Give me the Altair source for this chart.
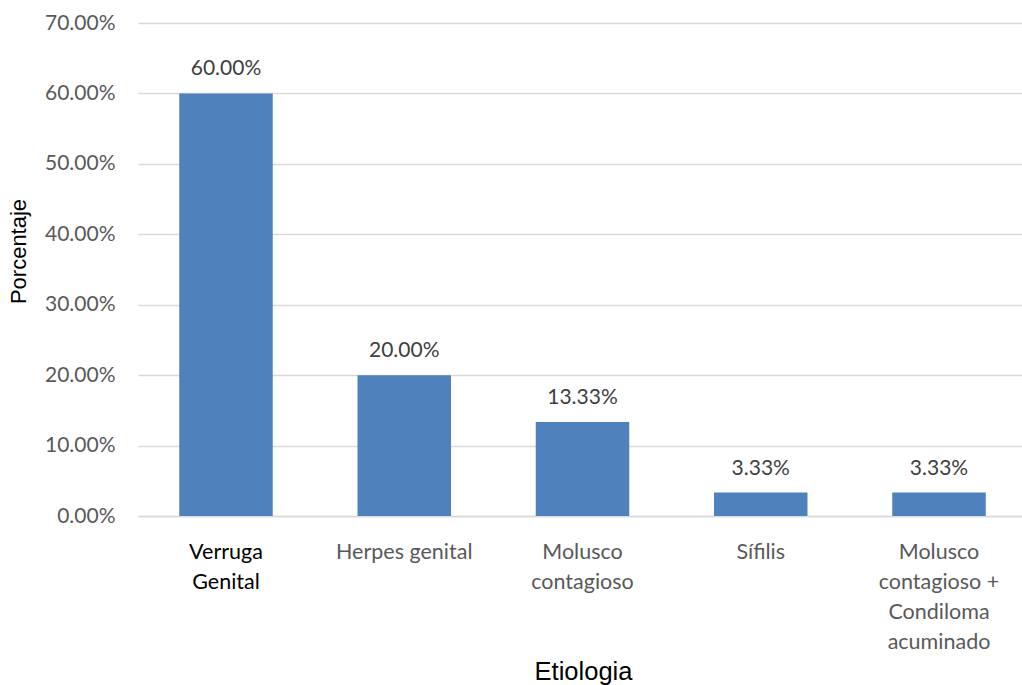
import altair as alt
import pandas as pd

# Etiology categories (line breaks mark how each axis label wraps)
categories = [
    "Verruga\nGenital",
    "Herpes genital",
    "Molusco\ncontagioso",
    "Sífilis",
    "Molusco\ncontagioso +\nCondiloma\nacuminado",
]
# Share of cases per etiology
shares = [0.60, 0.20, 0.1333, 0.0333, 0.0333]
y_ticks = [0.0, 0.1, 0.2, 0.3, 0.4, 0.5, 0.6, 0.7]

df = pd.DataFrame({"etiologia": categories, "porcentaje": shares})

BAR = "#4F81BD"
GRID = "#D9D9D9"
LABEL = "#595959"
FONT = "Lato"
TITLE_FONT = "Liberation Sans"

x_enc = alt.X(
    "etiologia:N",
    sort=categories,
    scale=alt.Scale(range=[0, 889], paddingInner=0.4755, paddingOuter=0.2314),
    axis=alt.Axis(
        title="Etiologia",
        titleFont=TITLE_FONT,
        titleFontSize=25.5,
        titleFontWeight="normal",
        titleColor="#000000",
        titleX=445,
        titleY=163,
        titleAlign="center",
        titleBaseline="alphabetic",
        labelExpr="split(datum.label, '\\n')",
        labelFont=FONT,
        labelFontSize=21.5,
        labelColor=alt.expr(
            "datum.value == 'Verruga\\nGenital' ? '#000000' : '#595959'"
        ),
        labelAngle=0,
        labelPadding=42,
        labelBaseline="alphabetic",
        labelLineHeight=30,
        labelLimit=300,
        ticks=False,
        domain=True,
        domainColor=GRID,
        domainWidth=1.3,
        grid=False,
    ),
)

y_enc = alt.Y(
    "porcentaje:Q",
    scale=alt.Scale(domain=[0, 0.7], nice=False),
    axis=alt.Axis(
        title="Porcentaje",
        titleFont=TITLE_FONT,
        titleFontSize=22,
        titleFontWeight="normal",
        titleColor="#000000",
        titleAngle=270,
        titleX=-120,
        titleY=228,
        titleAlign="center",
        titleBaseline="middle",
        values=y_ticks,
        format=".2%",
        labelFont=FONT,
        labelFontSize=21,
        labelColor=LABEL,
        labelPadding=23,
        ticks=False,
        domain=False,
        grid=True,
        gridColor=GRID,
        gridWidth=1.3,
    ),
)

bars = alt.Chart(df).mark_bar(color=BAR).encode(x=x_enc, y=y_enc)

values = alt.Chart(df).mark_text(
    font=FONT, fontSize=21, color="#404040", baseline="alphabetic", dy=-18
).encode(
    x=alt.X("etiologia:N", sort=categories),
    y=alt.Y("porcentaje:Q"),
    text=alt.Text("porcentaje:Q", format=".2%"),
)

chart = (
    alt.layer(bars, values)
    .properties(
        width=884,
        height=493,
        autosize=alt.AutoSizeParams(type="none"),
        padding={"left": 138, "top": 23, "right": 0, "bottom": 169},
        background="white",
    )
    .configure_view(stroke=None)
)

chart.save("out.html", embed_options={"renderer": "svg", "actions": False})
